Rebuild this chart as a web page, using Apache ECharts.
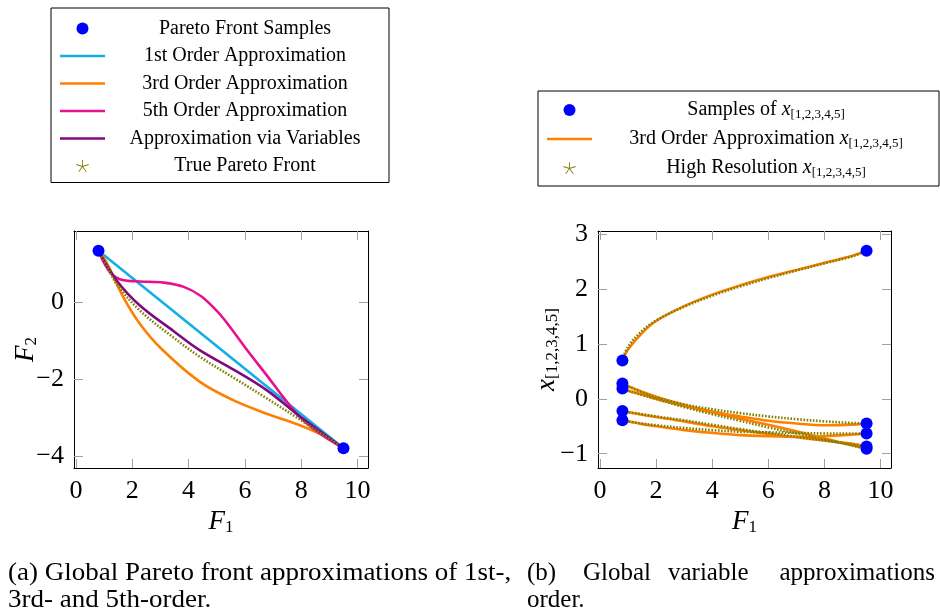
<!DOCTYPE html>
<html>
<head>
<meta charset="utf-8">
<script src="https://cdn.jsdelivr.net/npm/echarts@6/dist/echarts.min.js"></script>
<style>
  html, body { margin: 0; padding: 0; background: #fff; }
  #chart { width: 940px; height: 614px; }
</style>
</head>
<body>
<div id="chart"></div>
<script>
// ---------- Left panel: Pareto front approximations (F1 vs F2) ----------
const sampleF1 = [0.8, 9.5];
const sampleF2 = [1.33, -3.8];

const firstOrderF1 = [0.8, 9.5];
const firstOrderF2 = [1.33, -3.8];

const thirdOrderF1 = [0.8, 1.09, 1.69, 2.28, 3.05, 4.39, 5.58, 6.77, 7.95, 8.9, 9.5];
const thirdOrderF2 = [1.33, 1.02, 0.11, -0.58, -1.23, -2.07, -2.55, -2.9, -3.2, -3.51, -3.8];

const fifthOrderF1 = [0.8, 1.22, 1.69, 2.28, 3.11, 3.83, 4.42, 4.89, 5.28, 6.17, 6.77, 7.36, 7.95, 8.67, 9.5];
const fifthOrderF2 = [1.33, 0.76, 0.56, 0.53, 0.5, 0.39, 0.16, -0.15, -0.47, -1.34, -1.9, -2.47, -2.99, -3.42, -3.8];

const viaVariablesF1 = [0.8, 1.45, 2.28, 3.47, 4.39, 5.58, 6.77, 7.95, 9.5];
const viaVariablesF2 = [1.33, 0.55, -0.1, -0.76, -1.25, -1.75, -2.29, -2.97, -3.8];

const trueFrontF1 = [0.8, 1.1, 1.45, 2.28, 3.47, 4.39, 5.58, 6.77, 7.95, 9.5];
const trueFrontF2 = [1.33, 0.93, 0.46, -0.23, -0.93, -1.42, -1.96, -2.5, -3.05, -3.8];

const paretoTicksF1 = [0, 2, 4, 6, 8, 10];
const paretoTicksF2 = [-4, -2, 0];

// ---------- Right panel: design variables x1..x5 against F1 ----------
const variableF1 = [0.8, 1, 1.5, 2, 3, 4, 5, 6, 7, 8, 9, 9.5];

const x1Cubic = [0.7, 0.9, 1.2, 1.42, 1.69, 1.9, 2.07, 2.22, 2.35, 2.48, 2.61, 2.7];
const x2Cubic = [0.28, 0.23, 0.13, 0.04, -0.11, -0.23, -0.32, -0.4, -0.45, -0.48, -0.47, -0.45];
const x3Cubic = [0.19, 0.15, 0.08, 0, -0.13, -0.25, -0.36, -0.47, -0.59, -0.72, -0.85, -0.91];
const x4Cubic = [-0.22, -0.24, -0.29, -0.33, -0.41, -0.5, -0.57, -0.64, -0.7, -0.76, -0.82, -0.87];
const x5Cubic = [-0.39, -0.41, -0.46, -0.5, -0.57, -0.62, -0.66, -0.68, -0.69, -0.68, -0.65, -0.63];

const x1Fine = [0.7, 0.95, 1.24, 1.43, 1.68, 1.88, 2.05, 2.2, 2.34, 2.47, 2.6, 2.7];
const x2Fine = [0.28, 0.23, 0.12, 0.03, -0.1, -0.19, -0.26, -0.32, -0.37, -0.41, -0.44, -0.45];
const x3Fine = [0.19, 0.15, 0.07, 0, -0.15, -0.28, -0.4, -0.52, -0.63, -0.74, -0.85, -0.91];
const x4Fine = [-0.22, -0.24, -0.28, -0.32, -0.39, -0.47, -0.55, -0.62, -0.69, -0.76, -0.83, -0.87];
const x5Fine = [-0.39, -0.41, -0.45, -0.48, -0.53, -0.57, -0.6, -0.61, -0.62, -0.63, -0.63, -0.63];

const sampleVarF1 = [0.8, 0.8, 0.8, 0.8, 0.8, 9.5, 9.5, 9.5, 9.5, 9.5];
const sampleVarX = [0.7, 0.28, 0.19, -0.22, -0.39, 2.7, -0.45, -0.91, -0.87, -0.63];

const variableTicksF1 = [0, 2, 4, 6, 8, 10];
const variableTicksX = [-1, 0, 1, 2, 3];

// ---------- styling ----------
const SERIF = 'Liberation Serif';
const BLUE = '#0000ff';
const CYAN = '#12aee6';
const ORANGE = '#ff8000';
const MAGENTA = '#e8108c';
const PURPLE = '#7f0a7f';
const OLIVE = '#808000';
const TICK_GREY = '#a0a0a0';

const STAR = 'path://M11.2 12L12.8 12L12.8 0L11.2 0Z M12.25 12.76L23.66 9.05L23.16 7.53L11.75 11.24Z ' +
  'M11.35 12.47L18.41 22.18L19.7 21.24L12.65 11.53Z M11.35 11.53L4.3 21.24L5.6 22.18L12.65 12.47Z ' +
  'M12.25 11.24L0.84 7.53L0.34 9.05L11.75 12.76Z';
// thin bar used as the legend swatch of a plotted curve
const BAR = 'path://M0 0L45 0L45 2.6L0 2.6Z';

const zip = (xs, ys) => xs.map((x, i) => [x, ys[i]]);
const minus = v => String(v).replace('-', '\u2212');

const nameRich = {
  i: { fontFamily: SERIF, fontStyle: 'italic', fontSize: 27, color: '#000' },
  s: { fontFamily: SERIF, fontSize: 17, color: '#000', padding: [11, 0, 0, 0] }
};

function axis(gridIndex, position, min, max, ticks, withLabels, name, gap) {
  const horizontal = position === 'bottom' || position === 'top';
  const a = {
    type: 'value',
    gridIndex,
    position,
    min,
    max,
    axisLine: { show: true, onZero: false, lineStyle: { color: '#000', width: 1 } },
    axisTick: {
      show: true, inside: true, length: 9, customValues: ticks,
      lineStyle: { color: TICK_GREY, width: 1 }
    },
    axisLabel: {
      show: withLabels, customValues: ticks, margin: 10,
      fontFamily: SERIF, fontSize: 26, color: '#000', formatter: minus
    },
    splitLine: { show: false }
  };
  if (name) {
    a.name = name;
    a.nameLocation = 'middle';
    a.nameTextStyle = { rich: nameRich };
    if (horizontal) {
      a.nameGap = 40;
    } else {
      a.nameRotate = 90;
      a.nameMoveOverlap = false;
      a.nameGap = gap;
    }
  }
  return a;
}

const line = (name, xi, data, color, extra) => Object.assign({
  type: 'line', name, xAxisIndex: xi, yAxisIndex: xi, data,
  symbol: 'none', showSymbol: false, smooth: 0.35,
  lineStyle: { color, width: 2.6 }, itemStyle: { color },
  emphasis: { disabled: true }, animation: false, z: 2
}, extra || {});

const fineStyle = { lineStyle: { color: OLIVE, width: 2.6, type: [1.6, 1.6] }, z: 3 };

const PARETO = 'Pareto Front Samples';
const FIRST = '1st Order Approximation';
const THIRD = '3rd Order Approximation';
const FIFTH = '5th Order Approximation';
const VIAVAR = 'Approximation via Variables';
const TRUE_FRONT = 'True Pareto Front';
const VAR_SAMPLES = 'Samples of x';
const VAR_CUBIC = '3rd Order Approximation x';
const VAR_FINE = 'High Resolution x';

const legendText = {
  [PARETO]: '{c|Pareto Front Samples}',
  [FIRST]: '{c|1st Order Approximation}',
  [THIRD]: '{c|3rd Order Approximation}',
  [FIFTH]: '{c|5th Order Approximation}',
  [VIAVAR]: '{c|Approximation via Variables}',
  [TRUE_FRONT]: '{c|True Pareto Front}',
  [VAR_SAMPLES]: '{c|Samples of }{i|x}{s|[1,2,3,4,5]}',
  [VAR_CUBIC]: '{c|3rd Order Approximation }{i|x}{s|[1,2,3,4,5]}',
  [VAR_FINE]: '{c|High Resolution }{i|x}{s|[1,2,3,4,5]}'
};

const legendRich = {
  c: { fontFamily: SERIF, fontSize: 20, color: '#000', align: 'center' },
  i: { fontFamily: SERIF, fontStyle: 'italic', fontSize: 20, color: '#000', align: 'center' },
  s: { fontFamily: SERIF, fontSize: 13, color: '#000', align: 'center', padding: [9, 0, 0, 0] }
};

const legendBase = {
  orient: 'vertical',
  selectedMode: false,
  borderColor: '#000',
  borderWidth: 1,
  borderRadius: 0,
  backgroundColor: '#fff',
  itemWidth: 45,
  itemHeight: 12,
  symbolKeepAspect: true,
  formatter: n => legendText[n]
};

const swatch = (name, color) => ({ name, icon: BAR, itemStyle: { color, borderWidth: 0, opacity: 1 } });
const dot = name => ({ name, icon: 'circle', itemStyle: { color: BLUE, borderWidth: 0, opacity: 1 } });
const star = name => ({ name, icon: STAR, itemStyle: { color: OLIVE, borderWidth: 0, opacity: 1 } });

const option = {
  backgroundColor: '#fff',
  animation: false,
  grid: [
    { left: 74, top: 231, width: 294, height: 237, outerBoundsMode: 'none', containLabel: false },
    { left: 598, top: 231, width: 293, height: 237, outerBoundsMode: 'none', containLabel: false }
  ],
  xAxis: [
    axis(0, 'bottom', -0.07, 10.37, paretoTicksF1, true, '{i|F}{s|1}'),
    axis(0, 'top', -0.07, 10.37, paretoTicksF1, false),
    axis(1, 'bottom', -0.07, 10.37, variableTicksF1, true, '{i|F}{s|1}'),
    axis(1, 'top', -0.07, 10.37, variableTicksF1, false)
  ],
  yAxis: [
    axis(0, 'left', -4.31, 1.84, paretoTicksF2, true, '{i|F}{s|2}', 34),
    axis(0, 'right', -4.31, 1.84, paretoTicksF2, false),
    axis(1, 'left', -1.26, 3.06, variableTicksX, true, '{i|x}{s|[1,2,3,4,5]}', 37),
    axis(1, 'right', -1.26, 3.06, variableTicksX, false)
  ],
  legend: [
    Object.assign({}, legendBase, {
      left: 51, top: 8,
      padding: [10.5, 9, 6.5, 9],
      itemGap: 7.5,
      textStyle: { width: 270, lineHeight: 20, rich: legendRich },
      data: [
        dot(PARETO),
        swatch(FIRST, CYAN),
        swatch(THIRD, ORANGE),
        swatch(FIFTH, MAGENTA),
        swatch(VIAVAR, PURPLE),
        star(TRUE_FRONT)
      ]
    }),
    Object.assign({}, legendBase, {
      left: 538, top: 91,
      padding: [9, 4, 7, 9],
      itemGap: 8,
      textStyle: { width: 338, lineHeight: 20, rich: legendRich },
      data: [
        dot(VAR_SAMPLES),
        swatch(VAR_CUBIC, ORANGE),
        star(VAR_FINE)
      ]
    })
  ],
  series: [
    // left panel curves
    line(FIRST, 0, zip(firstOrderF1, firstOrderF2), CYAN, { smooth: false }),
    line(THIRD, 0, zip(thirdOrderF1, thirdOrderF2), ORANGE),
    line(FIFTH, 0, zip(fifthOrderF1, fifthOrderF2), MAGENTA),
    line(VIAVAR, 0, zip(viaVariablesF1, viaVariablesF2), PURPLE),
    line(TRUE_FRONT, 0, zip(trueFrontF1, trueFrontF2), OLIVE, fineStyle),
    {
      type: 'scatter', name: PARETO, xAxisIndex: 0, yAxisIndex: 0,
      data: zip(sampleF1, sampleF2), symbol: 'circle', symbolSize: 12,
      itemStyle: { color: BLUE, opacity: 1 }, z: 5, emphasis: { disabled: true }
    },
    // right panel: cubic approximations of each variable
    line(VAR_CUBIC, 2, zip(variableF1, x1Cubic), ORANGE),
    line(VAR_CUBIC, 2, zip(variableF1, x2Cubic), ORANGE),
    line(VAR_CUBIC, 2, zip(variableF1, x3Cubic), ORANGE),
    line(VAR_CUBIC, 2, zip(variableF1, x4Cubic), ORANGE),
    line(VAR_CUBIC, 2, zip(variableF1, x5Cubic), ORANGE),
    // right panel: high resolution variable traces
    line(VAR_FINE, 2, zip(variableF1, x1Fine), OLIVE, fineStyle),
    line(VAR_FINE, 2, zip(variableF1, x2Fine), OLIVE, fineStyle),
    line(VAR_FINE, 2, zip(variableF1, x3Fine), OLIVE, fineStyle),
    line(VAR_FINE, 2, zip(variableF1, x4Fine), OLIVE, fineStyle),
    line(VAR_FINE, 2, zip(variableF1, x5Fine), OLIVE, fineStyle),
    {
      type: 'scatter', name: VAR_SAMPLES, xAxisIndex: 2, yAxisIndex: 2,
      data: zip(sampleVarF1, sampleVarX), symbol: 'circle', symbolSize: 12,
      itemStyle: { color: BLUE, opacity: 1 }, z: 5, emphasis: { disabled: true }
    }
  ],
  graphic: [
    {
      type: 'text', left: 8, top: 561, scaleX: 1.08, originX: 0,
      style: { text: '(a) Global Pareto front approximations of 1st-,', font: '25px "Liberation Serif"', fill: '#000' }
    },
    {
      type: 'text', left: 8, top: 588, scaleX: 1.08, originX: 0,
      style: { text: '3rd- and 5th-order.', font: '25px "Liberation Serif"', fill: '#000' }
    },
    { type: 'text', left: 527, top: 561, style: { text: '(b)', font: '25px "Liberation Serif"', fill: '#000' } },
    { type: 'text', left: 583, top: 561, style: { text: 'Global', font: '25px "Liberation Serif"', fill: '#000' } },
    { type: 'text', left: 668, top: 561, style: { text: 'variable', font: '25px "Liberation Serif"', fill: '#000' } },
    { type: 'text', right: 5, top: 561, style: { text: 'approximations', font: '25px "Liberation Serif"', fill: '#000' } },
    { type: 'text', left: 527, top: 588, style: { text: 'order.', font: '25px "Liberation Serif"', fill: '#000' } }
  ]
};

const chart = echarts.init(document.getElementById('chart'), null, { renderer: 'canvas' });
chart.setOption(option);
</script>
</body>
</html>
